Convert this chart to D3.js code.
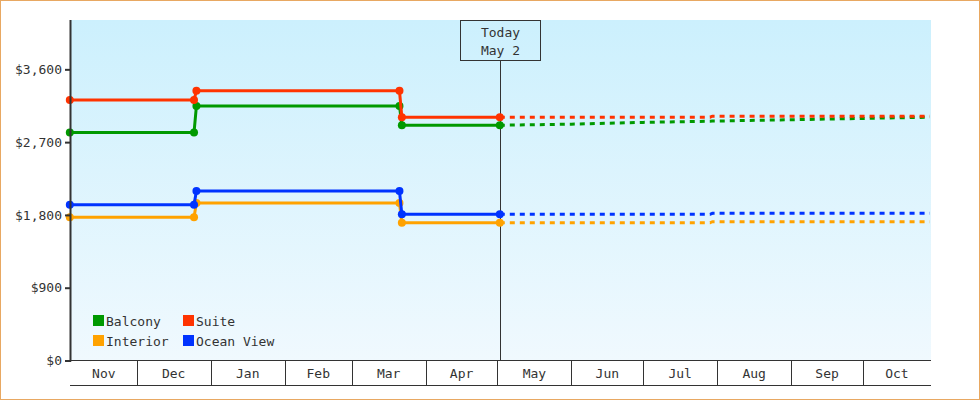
<!DOCTYPE html>
<html><head><meta charset="utf-8">
<script src="https://cdn.jsdelivr.net/npm/d3@7"></script>
<style>
html,body{margin:0;padding:0;background:#fff;}
svg{display:block;}
text{font-family:"DejaVu Sans Mono",monospace;font-size:13px;fill:#333;}
</style></head><body>
<svg id="chart" width="980" height="400"></svg>
<script>
// ---- data ----
const seriesNames = ["Interior", "Ocean View", "Balcony", "Suite"];
const seriesColors = ["#ffa200", "#0033ff", "#009900", "#ff3300"];
const legendOrder = ["Balcony", "Suite", "Interior", "Ocean View"];

const historyDates = ["2022-11-03", "2022-12-25", "2022-12-26", "2023-03-21", "2023-03-22", "2023-05-02"];
const interiorHistory  = [1770, 1770, 1947, 1947, 1703, 1703];
const oceanViewHistory = [1926, 1926, 2096, 2096, 1807, 1807];
const balconyHistory   = [2818, 2818, 3148, 3148, 2909, 2909];
const suiteHistory     = [3222, 3222, 3334, 3334, 3008, 3008];

const forecastDates = ["2023-05-02", "2023-06-01", "2023-07-01", "2023-07-29", "2023-07-30", "2023-09-01", "2023-10-01", "2023-10-29"];
const interiorForecast  = [1703, 1703, 1703, 1703, 1716, 1716, 1716, 1716];
const oceanViewForecast = [1807, 1807, 1807, 1807, 1820, 1820, 1820, 1820];
const balconyForecast   = [2909, 2922, 2944, 2958, 2960, 2977, 2993, 3008];
const suiteForecast     = [3008, 3008, 3008, 3008, 3021, 3021, 3021, 3021];

const yTicks = [0, 900, 1800, 2700, 3600];
const monthLabels = ["Nov","Dec","Jan","Feb","Mar","Apr","May","Jun","Jul","Aug","Sep","Oct"];
const monthStarts = ["2022-11-01","2022-12-01","2023-01-01","2023-02-01","2023-03-01","2023-04-01","2023-05-01","2023-06-01","2023-07-01","2023-08-01","2023-09-01","2023-10-01","2023-11-01"];
const todayDate = "2023-05-02";
const todayLabel = ["Today", "May 2"];
const domainStart = "2022-11-03T12:00";
const domainEnd = "2023-10-29T12:00";
const yMax = 4210;

// ---- build ----
const parse = s => new Date(s.length > 10 ? s : s + "T00:00");
const histValues = {"Interior": interiorHistory, "Ocean View": oceanViewHistory, "Balcony": balconyHistory, "Suite": suiteHistory};
const foreValues = {"Interior": interiorForecast, "Ocean View": oceanViewForecast, "Balcony": balconyForecast, "Suite": suiteForecast};
const color = d3.scaleOrdinal().domain(seriesNames).range(seriesColors);

const svg = d3.select("#chart");
const L = 71, R = 931, T = 20, B = 360.5;

const x = d3.scaleTime().domain([parse(domainStart), parse(domainEnd)]).range([L, R]);
const y = d3.scaleLinear().domain([0, yMax]).range([B, T]);

// outer border
svg.append("rect").attr("x", 0.5).attr("y", 0.5).attr("width", 979).attr("height", 399)
  .attr("fill", "#fff").attr("stroke", "#e8a862").attr("stroke-width", 1);

// background gradient
const defs = svg.append("defs");
const grad = defs.append("linearGradient").attr("id", "bg").attr("x1", 0).attr("y1", 0).attr("x2", 0).attr("y2", 1);
grad.append("stop").attr("offset", "0%").attr("stop-color", "#ccf0fd");
grad.append("stop").attr("offset", "100%").attr("stop-color", "#f0f9fe");
svg.append("rect").attr("x", L).attr("y", T).attr("width", R - L).attr("height", B - T).attr("fill", "url(#bg)");

// today marker
const tx = Math.round(x(parse(todayDate))) + 0.5;
svg.append("line").attr("x1", tx).attr("x2", tx).attr("y1", 60).attr("y2", B)
  .attr("stroke", "#333").attr("stroke-width", 1);
svg.append("rect").attr("x", tx - 40).attr("y", 20.5).attr("width", 80).attr("height", 40)
  .attr("fill", "none").attr("stroke", "#333").attr("stroke-width", 1);
svg.selectAll(".today").data(todayLabel).join("text")
  .attr("x", tx).attr("y", (d, i) => 37 + i * 18).attr("text-anchor", "middle").text(d => d);

// lines
const line = d3.line().x(d => x(d.date)).y(d => y(d.value));
seriesNames.forEach(name => {
  const hist = historyDates.map((d, i) => ({date: parse(d), value: histValues[name][i]}));
  const fore = forecastDates.map((d, i) => ({date: parse(d), value: foreValues[name][i]}));
  svg.append("path").datum(fore).attr("d", line).attr("fill", "none")
    .attr("stroke", color(name)).attr("stroke-width", 3).attr("stroke-dasharray", "5,5");
  svg.append("path").datum(hist).attr("d", line).attr("fill", "none")
    .attr("stroke", color(name)).attr("stroke-width", 3);
  svg.selectAll(null).data(hist).join("circle")
    .attr("cx", d => x(d.date)).attr("cy", d => y(d.value)).attr("r", 4)
    .attr("fill", color(name));
});

// y axis
const yAxis = d3.axisLeft(y).tickValues(yTicks).tickFormat(d3.format("$,")).tickSize(6).tickPadding(3);
const gy = svg.append("g").attr("transform", `translate(${L},0)`).call(yAxis);
gy.select(".domain").remove();
gy.selectAll(".tick line").attr("stroke", "#333").attr("stroke-width", 2);
gy.selectAll(".tick text").attr("font-family", "DejaVu Sans Mono").attr("font-size", 13).attr("fill", "#333");
svg.append("line").attr("x1", L - 0.5).attr("x2", L - 0.5).attr("y1", T).attr("y2", B + 1)
  .attr("stroke", "#333").attr("stroke-width", 2);

// x axis month cells
const months = monthLabels.map((m, i) => {
  const a = Math.max(L, x(parse(monthStarts[i])));
  const b = Math.min(R, x(parse(monthStarts[i + 1])));
  return {label: m, a, b, start: x(parse(monthStarts[i]))};
});
svg.append("line").attr("x1", L - 1).attr("x2", R).attr("y1", B).attr("y2", B).attr("stroke", "#333").attr("stroke-width", 1);
svg.append("line").attr("x1", L - 1).attr("x2", R).attr("y1", 385.5).attr("y2", 385.5).attr("stroke", "#333").attr("stroke-width", 1);
svg.selectAll(".msep").data(months.filter(m => m.start > L)).join("line")
  .attr("x1", d => Math.round(d.start) + 0.5).attr("x2", d => Math.round(d.start) + 0.5)
  .attr("y1", B).attr("y2", 385.5).attr("stroke", "#333").attr("stroke-width", 1);
svg.selectAll(".mlab").data(months).join("text")
  .attr("x", d => (d.a + d.b) / 2).attr("y", 378).attr("text-anchor", "middle").text(d => d.label);

// legend
const lg = svg.append("g");
legendOrder.forEach((name, i) => {
  const col = i % 2, row = Math.floor(i / 2);
  const gx = 93 + col * 90, gyy = 315 + row * 20;
  lg.append("rect").attr("x", gx).attr("y", gyy).attr("width", 11).attr("height", 11).attr("fill", color(name));
  lg.append("text").attr("x", gx + 13).attr("y", gyy + 10.5).text(name);
});
</script>
</body></html>
